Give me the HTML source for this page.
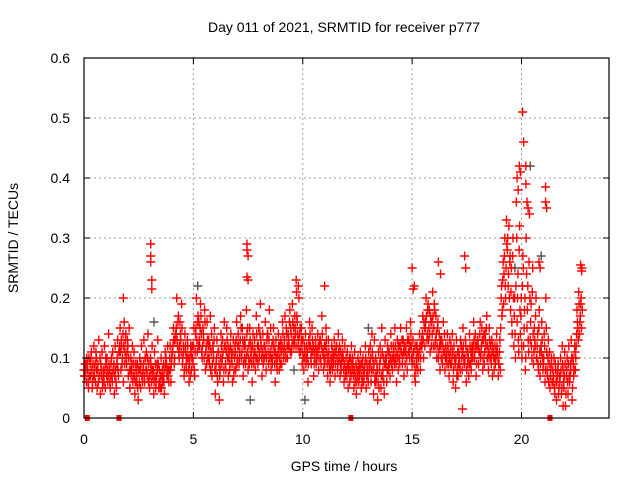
<!DOCTYPE html>
<html><head><meta charset="utf-8"><style>
body{margin:0;background:#fff}
svg{display:block;font-family:"Liberation Sans",sans-serif}
</style></head><body>
<svg id="chart" width="640" height="480" xmlns="http://www.w3.org/2000/svg">
<text x="344" y="32" font-size="14" text-anchor="middle">Day 011 of 2021, SRMTID for receiver p777</text>
<text transform="translate(18,238) rotate(-90)" font-size="14" text-anchor="middle">SRMTID / TECUs</text>
<text x="344" y="471" font-size="14" text-anchor="middle">GPS time / hours</text>
<g id="grid"></g><g id="marks"></g><g id="axes"></g>
</svg>
<script>
const xTicks=[0,5,10,15,20];
const yTicks=[0,0.1,0.2,0.3,0.4,0.5,0.6];
const yTickLabels=["0","0.1","0.2","0.3","0.4","0.5","0.6"];
const stepHours=0.15;
const redVals=[[.08,.07,.09,.06],[.09,.06,.1,.07],[.07,.11,.05,.09],[.12,.08,.06,.1],[.05,.09,.13,.07],[.04,.08,.11,.06],[.07,.12,.05,.09],[.1,.06,.14,.08],[.05,.09,.07,.11],[.08,.04,.12,.06],
[.09,.13,.07,.11],[.15,.08,.12,.1],[.06,.16,.11,.14],[.09,.13,.07,.15],[.05,.1,.08,.12],[.07,.11,.04,.09],[.06,.09,.03,.08],[.1,.05,.12,.07],[.08,.13,.06,.1],[.11,.07,.14,.09],
[.05,.1,.08,.12],[.07,.04,.11,.09],[.06,.09,.13,.05],[.08,.05,.1,.07],[.06,.09,.04,.11],[.1,.07,.12,.08],[.08,.12,.06,.1],[.11,.15,.09,.13],[.14,.2,.12,.17],[.1,.16,.13,.19],
[.09,.12,.07,.14],[.11,.08,.13,.1],[.06,.1,.12,.08],[.12,.09,.15,.07],[.14,.2,.11,.17],[.16,.12,.19,.14],[.1,.15,.13,.18],[.08,.12,.16,.1],[.13,.09,.17,.11],[.07,.12,.1,.15],
[.04,.09,.13,.06],[.11,.03,.08,.14],[.09,.13,.06,.16],[.12,.08,.15,.1],[.07,.11,.09,.14],[.1,.06,.13,.08],[.12,.08,.16,.1],[.14,.09,.11,.17],[.1,.15,.07,.12],[.13,.09,.18,.11],
[.08,.12,.15,.1],[.11,.06,.14,.09],[.13,.08,.17,.1],[.09,.15,.11,.19],[.12,.07,.14,.1],[.1,.16,.08,.13],[.14,.09,.18,.11],[.08,.12,.1,.15],[.11,.06,.13,.09],[.1,.14,.08,.12],
[.13,.09,.16,.11],[.12,.17,.1,.14],[.1,.14,.12,.18],[.15,.11,.19,.13],[.12,.17,.14,.21],[.16,.12,.2,.14],[.11,.15,.09,.13],[.08,.12,.14,.1],[.1,.06,.13,.16],[.12,.09,.15,.11],
[.07,.11,.13,.09],[.1,.14,.08,.12],[.13,.09,.17,.11],[.08,.12,.1,.15],[.11,.07,.13,.09],[.06,.1,.12,.08],[.09,.13,.07,.11],[.12,.08,.14,.1],[.07,.11,.09,.13],[.1,.06,.12,.08],
[.08,.11,.05,.09],[.06,.1,.12,.08],[.09,.05,.11,.07],[.04,.08,.1,.06],[.07,.11,.05,.09],[.1,.06,.08,.12],[.05,.09,.07,.11],[.08,.12,.06,.14],[.1,.04,.13,.07],[.06,.09,.03,.11],
[.08,.12,.05,.15],[.07,.1,.04,.13],[.09,.06,.12,.08],[.11,.07,.14,.09],[.08,.12,.1,.15],[.1,.06,.13,.08],[.12,.09,.15,.11],[.09,.13,.07,.11],[.11,.15,.08,.13],[.13,.1,.16,.12],
[.09,.13,.11,.07],[.06,.1,.12,.08],[.1,.14,.08,.12],[.12,.17,.1,.15],[.15,.2,.13,.18],[.13,.18,.11,.16],[.16,.21,.12,.19],[.12,.17,.1,.15],[.1,.14,.08,.12],[.13,.09,.16,.11],
[.08,.12,.1,.14],[.11,.07,.13,.09],[.09,.14,.06,.12],[.1,.05,.13,.08],[.07,.11,.09,.13],[.12,.08,.15,.1],[.09,.13,.06,.11],[.11,.07,.14,.09],[.08,.12,.1,.16],[.1,.14,.07,.12],
[.13,.09,.11,.16],[.11,.15,.08,.13],[.09,.14,.12,.17],[.12,.08,.15,.1],[.1,.13,.07,.11],[.08,.12,.1,.14],[.11,.07,.09,.13],[.15,.22,.18,.26],[.24,.3,.2,.33],[.28,.22,.32,.26],
[.18,.25,.14,.3],[.12,.2,.1,.36],[.16,.24,.11,.32],[.14,.2,.1,.27],[.12,.18,.08,.3],[.15,.22,.11,.34],[.13,.19,.1,.25],[.09,.15,.12,.2],[.1,.14,.08,.18],[.07,.12,.16,.1],
[.09,.14,.06,.2],[.11,.07,.13,.09],[.05,.08,.1,.06],[.06,.1,.04,.08],[.03,.07,.09,.05],[.06,.1,.04,.12],[.08,.05,.11,.02],[.07,.1,.04,.12],[.06,.09,.13,.03],[.1,.07,.12,.08],
[.12,.18,.15,.21],[.14,.17,.2,.25]];
const redVals2=[[.07,.09,.08,.1],[.08,.05,.07,.09],[.1,.08,.06,.07],[.07,.09,.11,.08],[.08,.06,.07,.1],[.09,.07,.05,.08],[.06,.08,.1,.07],[.08,.07,.09,.06],[.07,.1,.06,.08],[.09,.07,.08,.05],
[.1,.08,.11,.12],[.11,.13,.09,.14],[.12,.09,.13,.1],[.11,.12,.1,.08],[.08,.07,.09,.06],[.09,.07,.06,.08],[.07,.05,.08,.06],[.08,.09,.07,.06],[.09,.07,.1,.08],[.08,.1,.06,.07],
[.07,.09,.06,.08],[.08,.06,.07,.05],[.07,.08,.09,.06],[.06,.07,.05,.08],[.07,.06,.08,.09],[.09,.08,.07,.06],[.1,.08,.09,.11],[.12,.13,.1,.14],[.15,.13,.16,.11],[.12,.14,.11,.15],
[.1,.11,.08,.12],[.09,.1,.12,.08],[.09,.07,.11,.1],[.1,.12,.08,.11],[.15,.13,.16,.12],[.13,.15,.17,.11],[.12,.14,.1,.16],[.11,.09,.13,.12],[.1,.12,.08,.14],[.09,.11,.13,.08],
[.08,.1,.07,.11],[.09,.07,.1,.12],[.1,.11,.08,.12],[.09,.11,.13,.12],[.1,.08,.12,.11],[.09,.11,.07,.1],[.11,.13,.09,.12],[.12,.1,.13,.15],[.11,.13,.09,.1],[.12,.1,.14,.15],
[.1,.09,.13,.12],[.09,.12,.1,.11],[.11,.1,.14,.12],[.12,.1,.14,.13],[.1,.11,.09,.12],[.12,.11,.1,.14],[.11,.13,.1,.15],[.1,.09,.13,.12],[.09,.11,.1,.08],[.11,.12,.1,.09],
[.11,.12,.14,.1],[.13,.11,.15,.12],[.12,.13,.16,.11],[.14,.12,.16,.15],[.13,.15,.12,.17],[.14,.13,.11,.15],[.12,.13,.11,.1],[.1,.11,.09,.12],[.11,.09,.12,.14],[.1,.11,.13,.12],
[.09,.1,.12,.11],[.11,.12,.1,.13],[.1,.12,.14,.11],[.1,.09,.12,.13],[.09,.1,.11,.08],[.08,.09,.1,.11],[.1,.11,.09,.12],[.1,.09,.11,.12],[.09,.08,.1,.11],[.08,.09,.07,.1],
[.07,.09,.08,.1],[.08,.07,.09,.1],[.07,.08,.06,.09],[.06,.07,.08,.09],[.08,.09,.07,.06],[.08,.07,.09,.1],[.07,.08,.06,.09],[.09,.1,.08,.11],[.08,.09,.06,.1],[.07,.08,.06,.05],
[.09,.1,.07,.11],[.08,.06,.09,.1],[.1,.08,.11,.09],[.09,.1,.12,.1],[.1,.11,.09,.12],[.09,.11,.1,.12],[.1,.12,.11,.13],[.1,.11,.12,.09],[.12,.1,.13,.11],[.11,.12,.14,.1],
[.1,.11,.09,.12],[.08,.09,.11,.1],[.11,.12,.1,.13],[.14,.13,.16,.12],[.16,.17,.14,.19],[.15,.14,.17,.12],[.14,.17,.15,.18],[.13,.14,.12,.16],[.11,.12,.13,.1],[.1,.12,.11,.14],
[.1,.11,.09,.12],[.09,.1,.11,.12],[.1,.11,.08,.1],[.09,.1,.07,.11],[.09,.1,.08,.12],[.1,.11,.12,.09],[.1,.12,.08,.09],[.1,.09,.12,.11],[.1,.11,.12,.13],[.11,.12,.09,.13],
[.12,.11,.14,.1],[.12,.13,.1,.14],[.11,.13,.15,.1],[.1,.11,.13,.12],[.09,.11,.12,.1],[.1,.09,.11,.12],[.1,.09,.11,.08],[.2,.17,.23,.19],[.27,.22,.25,.29],[.3,.24,.2,.27],
[.21,.16,.27,.2],[.17,.14,.22,.3],[.2,.13,.28,.18],[.17,.12,.22,.25],[.15,.2,.1,.24],[.18,.13,.26,.2],[.16,.12,.21,.14],[.11,.13,.17,.1],[.12,.09,.15,.11],[.09,.11,.13,.08],
[.1,.12,.08,.15],[.08,.1,.06,.11],[.07,.09,.06,.08],[.07,.05,.09,.06],[.06,.08,.04,.07],[.07,.08,.05,.09],[.06,.07,.09,.04],[.08,.06,.09,.07],[.07,.08,.1,.05],[.09,.08,.11,.1],
[.14,.16,.13,.19],[.16,.19,.15,.18]];
const spikeTimes=[1.8,3.05,3.05,3.05,3.1,3.1,7.45,7.45,7.5,7.45,7.5,9.7,9.8,11.0,15.0,15.1,15.05,16.2,16.3,17.4,17.45,19.9,19.95,19.8,19.85,20.05,20.1,20.2,20.2,20.25,20.3,20.8,20.85,21.1,21.1,21.15,22.7,22.75,17.3,21.9];
const spikeVals=[.2,.29,.27,.26,.23,.215,.29,.28,.27,.235,.23,.23,.22,.22,.25,.22,.215,.26,.24,.27,.25,.42,.41,.4,.38,.51,.46,.42,.39,.36,.35,.26,.25,.385,.36,.35,.255,.245,.015,.02];
const greyTimes=[5.2,7.6,10.1,20.4,19.7,15.2,9.6,3.2,20.9,13.0,8.9,2.1];
const greyVals=[.22,.03,.03,.42,.25,.12,.08,.16,.27,.15,.12,.05];
const gapTimes=[0.15,1.6,12.2,21.3];

const L=84,R=609,T=58,B=418,XMAX=24,YMAX=0.6;
const xS=t=>L+t/XMAX*(R-L);
const yS=v=>B-v/YMAX*(B-T);
const NS="http://www.w3.org/2000/svg";
const mk=(tag,parent)=>{const e=document.createElementNS(NS,tag);document.getElementById(parent).appendChild(e);return e;};

xTicks.forEach(t=>{
  const x=xS(t);
  if(t>0){const g=mk('line','grid');
  
  
  g.setAttribute('x1',x);g.setAttribute('x2',x);g.setAttribute('y1',T);g.setAttribute('y2',B);
  g.setAttribute('stroke','#a0a0a0');g.setAttribute('stroke-dasharray','2,3');}
  const tk=mk('path','axes');
  
  
  tk.setAttribute('d',`M${x},${B}v-6M${x},${T}v6`);tk.setAttribute('stroke','#000');
  const lb=mk('text','axes');
  
  
  lb.setAttribute('x',x);lb.setAttribute('y',B+26);lb.setAttribute('font-size','14');lb.setAttribute('text-anchor','middle');
  lb.textContent=t;
});
yTicks.forEach((v,i)=>{
  const y=yS(v);
  if(v>0&&v<YMAX){const g=mk('line','grid');
  
  
  g.setAttribute('x1',L);g.setAttribute('x2',R);g.setAttribute('y1',y);g.setAttribute('y2',y);
  g.setAttribute('stroke','#a0a0a0');g.setAttribute('stroke-dasharray','2,3');}
  const tk=mk('path','axes');
  
  
  tk.setAttribute('d',`M${L},${y}h6M${R},${y}h-6`);tk.setAttribute('stroke','#000');
  const lb=mk('text','axes');
  
  
  lb.setAttribute('x',L-14);lb.setAttribute('y',y+5);lb.setAttribute('font-size','14');lb.setAttribute('text-anchor','end');
  lb.textContent=yTickLabels[i];
});
const fr=mk('rect','axes');


fr.setAttribute('x',L);fr.setAttribute('y',T);fr.setAttribute('width',R-L);fr.setAttribute('height',B-T);
fr.setAttribute('fill','none');fr.setAttribute('stroke','#000');fr.setAttribute('stroke-width','1.2');

function plus(t,v,color,name){
  const x=xS(t),y=yS(v);
  const p=mk('path','marks');
  
  
  p.setAttribute('d',`M${x-4.5},${y}h9M${x},${y-4.5}v9`);
  p.setAttribute('stroke',color);p.setAttribute('stroke-width','1.4');
}
greyTimes.forEach((t,i)=>plus(t,greyVals[i],'#555','grey-point'));
redVals.forEach((grp,i)=>grp.forEach((v,j)=>plus(i*stepHours+j*stepHours/4,v,'#ff0000','srmtid-point')));
redVals2.forEach((grp,i)=>grp.forEach((v,j)=>plus(i*stepHours+j*stepHours/4+stepHours/8,v,'#ff0000','srmtid-point')));
spikeTimes.forEach((t,i)=>plus(t,spikeVals[i],'#ff0000','srmtid-point'));
gapTimes.forEach(t=>{
  const r=mk('rect','marks');
  
  
  r.setAttribute('x',xS(t)-2.5);r.setAttribute('y',B-3);r.setAttribute('width',5);r.setAttribute('height',6);r.setAttribute('fill','#ff0000');
});
</script>
</body></html>
